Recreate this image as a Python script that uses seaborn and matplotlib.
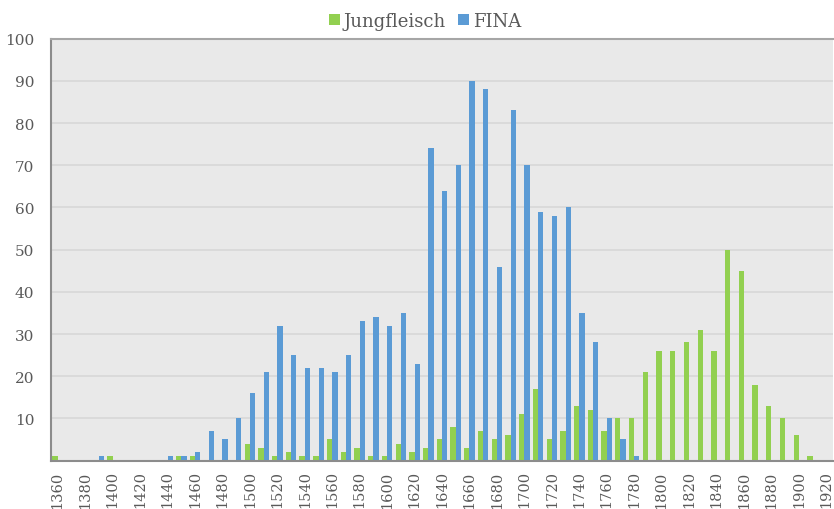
import matplotlib
matplotlib.use("Agg")
import matplotlib.pyplot as plt
import pandas as pd
import seaborn as sns

# category axis: 1360 .. 1920 in steps of 10
years = list(range(1360, 1930, 10))

jungfleisch = [1, 0, 0, 0, 1, 0, 0, 0, 0, 1,
               1, 0, 0, 0, 4, 3, 1, 2, 1, 1,
               5, 2, 3, 1, 1, 4, 2, 3, 5, 8,
               3, 7, 5, 6, 11, 17, 5, 7, 13, 12,
               7, 10, 10, 21, 26, 26, 28, 31, 26, 50,
               45, 18, 13, 10, 6, 1, 0]

fina = [0, 0, 0, 1, 0, 0, 0, 0, 1, 1,
        2, 7, 5, 10, 16, 21, 32, 25, 22, 22,
        21, 25, 33, 34, 32, 35, 23, 74, 64, 70,
        90, 88, 46, 83, 70, 59, 58, 60, 35, 28,
        10, 5, 1, 0, 0, 0, 0, 0, 0, 0,
        0, 0, 0, 0, 0, 0, 0]

series_names = ["Jungfleisch", "FINA"]
colors = {"Jungfleisch": "#92D050", "FINA": "#5B9BD5"}


def main():
    sns.set_style("white")
    plt.rcParams['font.family'] = ['DejaVu Serif', 'DejaVu Sans']

    cats = [str(y) for y in years]
    df = pd.DataFrame({
        "year": cats * 2,
        "count": jungfleisch + fina,
        "series": [series_names[0]] * len(cats) + [series_names[1]] * len(cats),
    })

    fig = plt.figure(figsize=(8.34, 5.10), dpi=100)
    ax = fig.add_axes([0.061, 0.095, 0.938, 0.827])

    sns.barplot(data=df, x="year", y="count", hue="series", order=cats,
                hue_order=series_names, palette=colors, saturation=1,
                width=0.77, linewidth=0, ax=ax)

    ax.set_facecolor("#E9E9E9")
    ax.set_axisbelow(True)
    ax.yaxis.grid(True, color="#D9D9D9", linewidth=1.3)
    ax.xaxis.grid(False)

    ax.set_ylim(0, 100)
    ax.set_yticks(range(10, 101, 10))
    ax.set_xlim(-0.5, len(cats) - 0.5)
    ax.set_xticks(range(0, len(cats), 2))
    ax.set_xticklabels(cats[::2], rotation=90)
    ax.tick_params(axis="both", length=0, labelcolor="#595959")
    ax.tick_params(axis="x", pad=7, labelsize=10.5)
    ax.tick_params(axis="y", pad=12, labelsize=11)
    ax.set_xlabel("")
    ax.set_ylabel("")

    for side in ["left", "bottom"]:
        ax.spines[side].set_color("#8C8C8C")
        ax.spines[side].set_linewidth(1.5)
    ax.spines["top"].set_color("#A6A6A6")
    ax.spines["top"].set_linewidth(1.5)
    ax.spines["right"].set_visible(False)

    ax.legend(loc="lower center", bbox_to_anchor=(0.478, 1.0), ncol=2,
              frameon=False, fontsize=13, handlelength=0.6, handleheight=0.6,
              handletextpad=0.2, columnspacing=0.7, labelcolor="#595959",
              borderaxespad=0.1)

    fig.savefig("out.png", dpi=100)


if __name__ == '__main__':
    main()
